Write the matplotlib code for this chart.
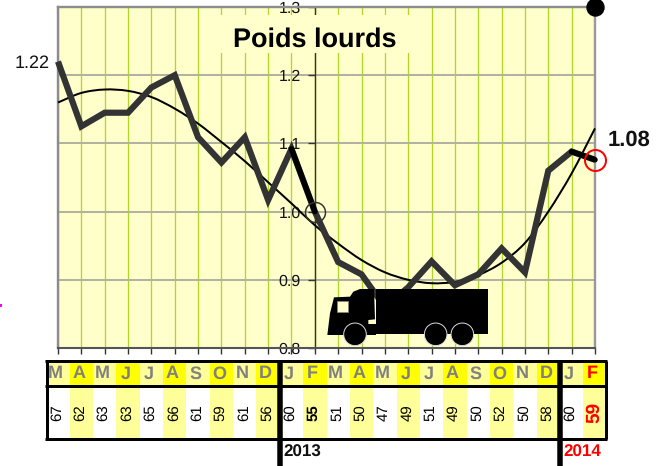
import matplotlib
matplotlib.use("Agg")
import matplotlib.pyplot as plt
from matplotlib.patches import Rectangle, Polygon, Circle, PathPatch
from matplotlib.path import Path

plt.rcParams['font.family'] = ['Liberation Sans', 'DejaVu Sans']
plt.rcParams['text.hinting'] = 'no_hinting'
plt.rcParams['text.hinting_factor'] = 1

months = list("MAMJJASONDJFMAMJJASONDJF")
counts = [67, 62, 63, 63, 65, 66, 61, 59, 61, 56, 60, 55,
          51, 50, 47, 49, 51, 49, 50, 52, 50, 58, 60, 59]
index_values = [1.22, 1.125, 1.145, 1.145, 1.182, 1.20, 1.109, 1.072, 1.109, 1.017, 1.092, 1.00,
                0.926, 0.908, 0.86, 0.889, 0.927, 0.892, 0.908, 0.946, 0.911, 1.06, 1.088, 1.076]
trend_values = [1.160, 1.174, 1.179, 1.177, 1.168, 1.151, 1.129, 1.102, 1.074, 1.043, 1.012, 0.980,
                0.953, 0.929, 0.911, 0.900, 0.895, 0.897, 0.907, 0.925, 0.954, 1.000, 1.056, 1.122]
y_ticks = [0.8, 0.9, 1.0, 1.1, 1.2, 1.3]
y_tick_labels = ["0.8", "0.9", "1.0", "1.1", "1.2", "1.3"]

W, H = 660, 466
L, R, T, B = 58.0, 595.0, 7.0, 348.0
fig = plt.figure(figsize=(W / 100, H / 100), dpi=100, facecolor='white')
ax = fig.add_axes([L / W, 1 - B / H, (R - L) / W, (B - T) / H], facecolor='#FFFFCC')
px = 0.72
xs = list(range(len(index_values)))

ax.set_xlim(0, 23)
ax.set_ylim(0.8, 1.3)
ax.set_axisbelow(True)
ax.set_xticks(xs)
ax.set_xticklabels([])
ax.set_yticks(y_ticks)
ax.set_yticklabels(y_tick_labels)
ax.tick_params(axis='x', direction='out', length=4, width=1, color='#333333')
ax.tick_params(axis='y', direction='out', length=5, width=1, color='#333333', pad=5,
               labelsize=11.4, labelcolor='#111111')
ax.grid(axis='x', color='#B0D62A', lw=1.3 * px, zorder=0.5)
ax.grid(axis='y', color='#B2B2A0', lw=2 * px, zorder=0.5)
for n in ('top', 'right'):
    ax.spines[n].set_visible(False)
ax.spines['left'].set_position(('data', 11))
ax.spines['left'].set_color('#333333')
ax.spines['left'].set_linewidth(1)
ax.spines['left'].set_zorder(0.8)
ax.spines['bottom'].set_color('#555555')
ax.spines['bottom'].set_linewidth(1.5)
ax.axvline(0, color='#8C8C8C', lw=2.4 * px, zorder=0.9, clip_on=False)
ax.axvline(23, color='#9A9A9A', lw=2.4 * px, zorder=0.9, clip_on=False)
ax.axhline(1.3, color='#8C8C8C', lw=2.4 * px, zorder=0.9, clip_on=False)
ax.set_zorder(1)

# title box masks grid
ax.add_patch(Rectangle((6.8, 1.2326), 8.9, 0.0556, fc='#FFFFCC', ec='none', zorder=1))

# trend drawn as a smooth curve through its values
verts = [(xs[0], trend_values[0])]
codes = [Path.MOVETO]
n = len(xs)
for i in range(n - 1):
    m0 = (trend_values[min(i + 1, n - 1)] - trend_values[max(i - 1, 0)]) / (min(i + 1, n - 1) - max(i - 1, 0))
    m1 = (trend_values[min(i + 2, n - 1)] - trend_values[i]) / (min(i + 2, n - 1) - i)
    verts += [(i + 1 / 3, trend_values[i] + m0 / 3),
              (i + 2 / 3, trend_values[i + 1] - m1 / 3),
              (i + 1, trend_values[i + 1])]
    codes += [Path.CURVE4] * 3
ax.add_patch(PathPatch(Path(verts, codes), fc='none', ec='black', lw=2 * px, zorder=3, clip_on=False))

ax.plot(xs, index_values, color='#333333', lw=6.2 * px, zorder=4, clip_on=False,
        solid_joinstyle='miter', solid_capstyle='butt')
ax.plot(xs[10:12], index_values[10:12], color='black', lw=5.5 * px, zorder=5, solid_capstyle='round')
ax.plot(xs[22:24], index_values[22:24], color='black', lw=5.5 * px, zorder=5, clip_on=False, solid_capstyle='round')

ax.plot([11], [index_values[11]], 'o', ms=20 * px, mfc='none', mec='#333333', mew=1.5 * px, zorder=6)
ax.plot([23], [index_values[23]], 'o', ms=21 * px, mfc='none', mec='#FF0000', mew=2 * px, zorder=6, clip_on=False)
ax.plot([23], [1.3], 'o', ms=17 * px, color='black', zorder=6, clip_on=False)

ax.text(11.0, 1.2527, "Poids lourds", fontsize=19.7, fontweight='bold', color='black',
        ha='center', va='center', zorder=7)

# overlay in pixel coordinates for annotations, truck and table
top = fig.add_axes([0, 0, 1, 1], facecolor='none')
top.set_xlim(0, W)
top.set_ylim(H, 0)
top.axis('off')
top.set_zorder(5)

top.text(50, 63, "1.22", fontsize=13.3, ha='right', va='center', color='#111111')
top.text(608, 140, "1.08", fontsize=15.5, fontweight='bold', ha='left', va='center', color='#111111')
top.add_patch(Rectangle((0, 304), 2, 3, fc='#FF00FF', ec='none'))

# truck icon
def zp(a, b):
    return (320 + a / 3, 280 + b / 3)

top.add_patch(Rectangle(zp(168, 27), (503 - 168) / 3, (163 - 27) / 3, fc='black', ec='none', zorder=3))
cab = [(22, 165), (30, 100), (42, 52), (90, 50), (100, 35), (120, 27), (162, 27),
       (165, 118), (145, 120), (145, 132), (168, 132), (168, 165)]
top.add_patch(Polygon([zp(*p) for p in cab], closed=True, fc='black', ec='none', zorder=3))
top.add_patch(Rectangle(zp(50, 62), 35 / 3, 35 / 3, fc='#FFFFCC', ec='#888888', lw=0.5, zorder=4))
for zx in (105, 347, 427):
    top.add_patch(Circle(zp(zx, 163), 11.3, fc='black', ec='#DDDDDD', lw=0.7, zorder=5))

# table
YT, YM, YB = 361.0, 385.5, 439.0
step = (R - L) / 23
PALE, YEL = '#FFFF99', '#FFFF00'
for i, (m, c) in enumerate(zip(months, counts)):
    cx = L + i * step
    x0, x1 = max(cx - step / 2, 46.5), cx + step / 2
    top.add_patch(Rectangle((x0, YT), x1 - x0, YM - YT, fc=YEL if i % 2 else PALE, ec='none', zorder=1))
    top.add_patch(Rectangle((x0, YM), x1 - x0, YB - YM, fc=PALE if i % 2 else 'white', ec='none', zorder=1))
    last = i == len(months) - 1
    top.text(cx - 2.5, (YT + YM) / 2 + 0.5, m, fontsize=13, fontweight='bold',
             color='#FF0000' if last else '#808080', ha='center', va='center', zorder=2)
    bold = last or i == 11
    top.text(cx - 1, (YM + YB) / 2, str(c), fontsize=13.5 if last else 10.8, rotation=90,
             fontweight='bold' if bold else 'normal', color='#FF0000' if last else 'black',
             ha='center', va='center', zorder=2)

for y in (YT, YM, YB):
    top.plot([45, 607], [y, y], color='black', lw=3 * px, zorder=3, solid_capstyle='butt')
for x in (46.5, 605.5):
    top.plot([x, x], [YT, YB], color='black', lw=3 * px, zorder=3, solid_capstyle='butt')
for x in (L + 9.5 * step - 0.2, L + 21.5 * step - 0.2):
    top.plot([x, x], [YT, H], color='black', lw=5.5 * px, zorder=3, solid_capstyle='butt')
top.text(283, 452.5, "2013", fontsize=12.4, fontweight='bold', color='#111111', ha='left', va='center')
top.text(563.5, 452.5, "2014", fontsize=12.4, fontweight='bold', color='#FF0000', ha='left', va='center')

fig.savefig('out.png', dpi=100, facecolor='white')
